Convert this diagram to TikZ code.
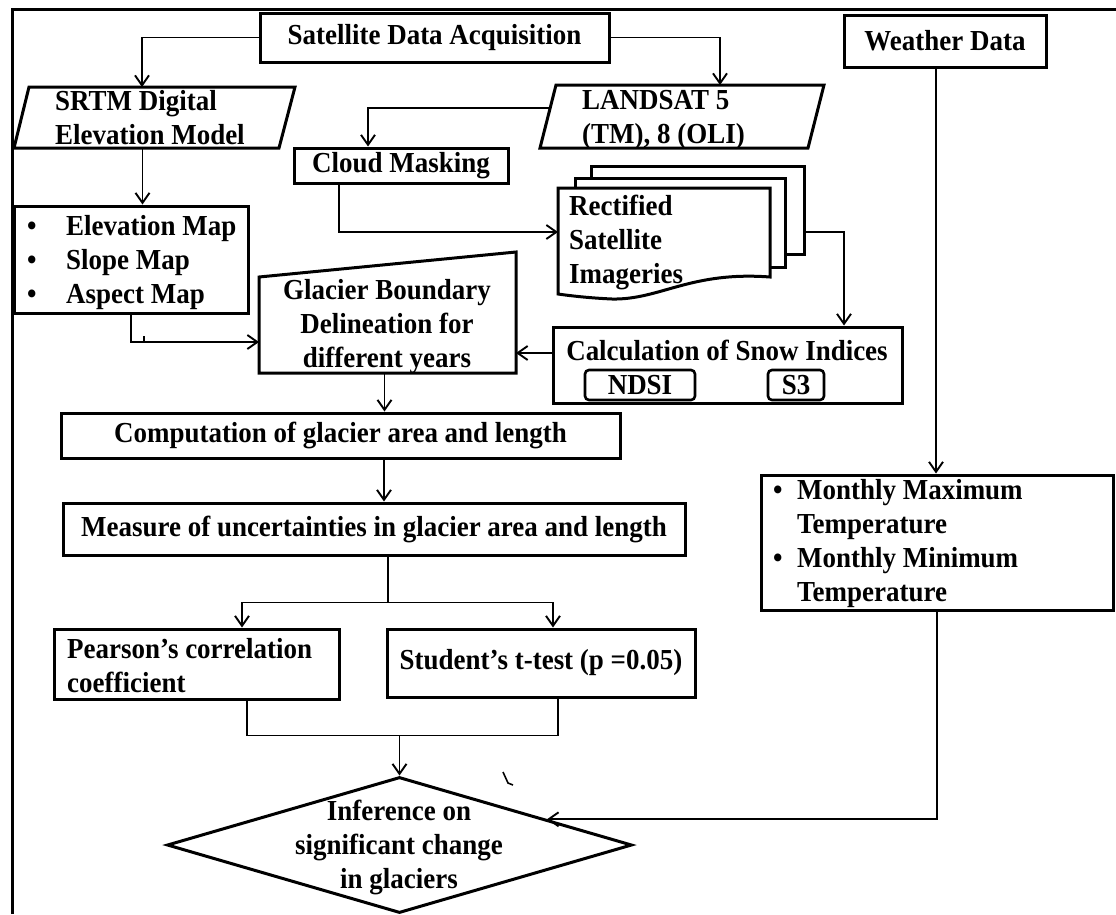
\documentclass[tikz,border=0pt]{standalone}
\usepackage{fontspec}
\setmainfont{Liberation Serif}[FakeStretch=0.93]
\usetikzlibrary{arrows.meta,shapes.geometric,calc}
\begin{document}
\begin{tikzpicture}[x=1pt,y=-1pt,line join=miter,
  every node/.style={font=\fontsize{29}{34}\selectfont\bfseries, inner sep=0pt},
  box/.style={draw, line width=3pt, align=center},
  ghost/.style={inner sep=0pt, outer sep=0pt},
  shp/.style={line width=3pt},
  con/.style={line width=1.9pt},
  arr/.style={con, -{Straight Barb[length=10pt,width=14pt]}},
  bul/.style={anchor=west, align=left}
]
\useasboundingbox (0,0) rectangle (1116,914);
% frame
\draw[line width=3pt] (12,914) -- (12,9) -- (1116,9);

% top boxes
\node[box, minimum width=349pt, minimum height=49pt] (sat) at (434.5,37.5) {Satellite Data Acquisition};
\node[box, minimum width=202pt, minimum height=52pt] (wea) at (945,41) {Weather Data};

% SRTM parallelogram
\draw[shp] (29,87) -- (295,87) -- (279,148) -- (14,148) -- cycle;
\node[ghost, minimum width=281pt, minimum height=61pt] (srtm) at (154.5,117.5) {};
\node[bul] (srtmtxt) at (55,118) {SRTM Digital\\Elevation Model};

% LANDSAT parallelogram
\draw[shp] (556,85) -- (824,85) -- (808,148) -- (540,148) -- cycle;
\node[ghost, minimum width=284pt, minimum height=63pt] (lan) at (682,116.5) {};
\node[bul] (lantxt) at (582,119.5) {LANDSAT 5\\(TM), 8 (OLI)};
\coordinate (lanleft) at (550,108);

% cloud masking
\node[box, minimum width=214pt, minimum height=35pt] (cloud) at (401,165.5) {Cloud Masking};

% document stack
\draw[shp, fill=white] (591,166) rectangle (804,254);
\draw[shp, fill=white] (575,178) rectangle (785,267);
\draw[shp, fill=white] (558,188) -- (770,188) -- (770,277)
   .. controls (690,271) and (660,300) .. (612,299)
   .. controls (590,298) and (572,296) .. (558,294) -- cycle;
\node[ghost, minimum width=246pt, minimum height=132pt] (docs) at (681,232) {};
\node[bul] (docstxt) at (569,242.5) {Rectified\\Satellite\\Imageries};

% elevation box
\node[box, minimum width=234pt, minimum height=107pt] (elev) at (131,259.5) {};
\node[bul] (elevtxt) at (27,262.5) {\makebox[39pt][l]{\textbullet}Elevation Map\\\makebox[39pt][l]{\textbullet}Slope Map\\\makebox[39pt][l]{\textbullet}Aspect Map};

% glacier boundary
\draw[shp] (259,277) -- (516,252) -- (516,373) -- (259,373) -- cycle;
\node[ghost, minimum width=257pt, minimum height=121pt] (gla) at (387.5,312.5) {};
\node[align=center] (glatxt) at (387,327) {Glacier Boundary\\Delineation for\\different years};

% snow indices
\node[box, minimum width=349pt, minimum height=76pt] (snow) at (727.5,365) {};
\node (snowtxt) at (727,350) {Calculation of Snow Indices};
\node[box, rounded corners=4pt, line width=2.6pt, minimum width=110pt, minimum height=30pt] (ndsi) at (640,385) {NDSI};
\node[box, rounded corners=4pt, line width=2.6pt, minimum width=56pt, minimum height=30pt] (s3) at (796,385) {S3};

% computation / measure
\node[box, minimum width=559pt, minimum height=45pt] (comp) at (340.5,435.5) {Computation of glacier area and length};
\node[box, minimum width=622pt, minimum height=52pt] (meas) at (374,529) {Measure of uncertainties in glacier area and length};

% tests
\node[box, minimum width=285pt, minimum height=70pt] (pear) at (196.5,664) {};
\node[bul] (peartxt) at (67,665.5) {Pearson’s correlation\\coefficient};
\node[box, minimum width=308pt, minimum height=68pt] (stu) at (541,663) {Student’s t-test (p =0.05)};

% monthly
\node[box, minimum width=352pt, minimum height=135pt] (mon) at (937,542.5) {};
\node[bul] (montxt) at (773,544) {\makebox[24pt][l]{\textbullet}Monthly Maximum\\\hspace*{24pt}Temperature\\\makebox[24pt][l]{\textbullet}Monthly Minimum\\\hspace*{24pt}Temperature};

% diamond
\node[draw, diamond, line width=3pt, minimum width=465pt, minimum height=136pt, inner sep=0pt] (inf) at (399.5,845) {};
\node[align=center] (inftxt) at (399,847) {Inference on\\significant change\\in glaciers};

% connectors
\coordinate (a0) at ($(srtm.north)+(-12.5,0)$);
\draw[arr] (sat.west) -| (a0);
\coordinate (a0b) at ($(lan.north)+(38,0)$);
\draw[arr] (sat.east) -| (a0b);
\coordinate (a1) at ($(srtm.south)+(-12,0)$);
\draw[arr] (a1) -- (a1 |- elev.north);
\coordinate (a2) at ($(cloud.north)+(-33,0)$);
\draw[arr] (lanleft) -| (a2);
\coordinate (a3) at ($(cloud.south)+(-62,0)$);
\draw[arr] (a3) |- (docs.west);
\coordinate (a4) at ($(snow.north)+(116.5,0)$);
\draw[arr] (docs.east) -| (a4);
\coordinate (a5) at ($(gla.west)+(0,29.5)$);
\draw[arr] (elev.south) |- (a5);
\draw[line width=1.5pt] (144,342) -- (144,336);
\coordinate (s1) at ($(snow.west)+(0,-12)$);
\draw[arr] (s1) -- (s1 -| gla.east);
\coordinate (g1) at ($(gla.south)+(-3,0)$);
\draw[arr] (g1) -- (g1 |- comp.north);
\coordinate (c1) at ($(comp.south)+(43.5,0)$);
\draw[arr] (c1) -- (c1 |- meas.north);
\coordinate (m1) at ($(meas.south)+(14,0)$);
\coordinate (split) at ($(m1)+(0,46)$);
\draw[con] (m1) -- (split);
\coordinate (p1) at ($(pear.north)+(45.5,0)$);
\coordinate (t1) at ($(stu.north)+(12,0)$);
\draw[arr] (split) -| (p1);
\draw[arr] (split) -| (t1);
\coordinate (join) at ($(inf.north)+(0,-40)$);
\coordinate (p2) at ($(pear.south)+(50.5,0)$);
\coordinate (t2) at ($(stu.south)+(17,0)$);
\draw[con] (p2) |- (join);
\draw[con] (t2) |- (join);
\draw[arr] (join) -- (inf.north);
\coordinate (w1) at ($(wea.south)+(-9,0)$);
\draw[arr] (w1) -- (w1 |- mon.north);
\coordinate (dE) at ($(inf.north)!0.63!(inf.east)$);
\draw[arr] (mon.south) |- (dE);
% stray mark
\draw[line width=1.6pt] (503,772) -- (508,783) -- (513,785);
\end{tikzpicture}
\end{document}
